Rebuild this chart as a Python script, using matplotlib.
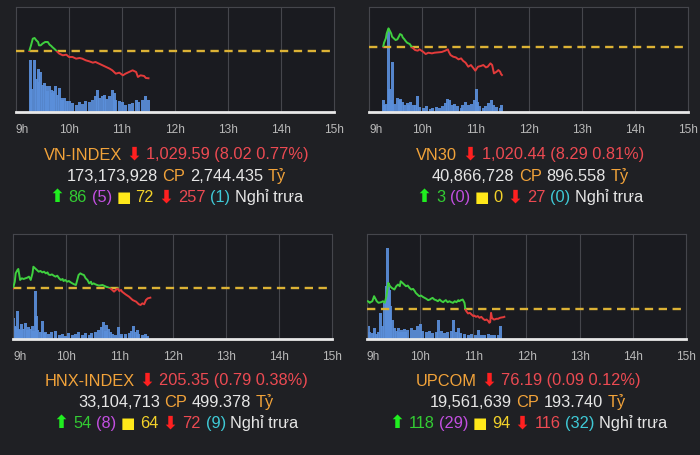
import matplotlib
matplotlib.use('Agg')
import matplotlib.pyplot as plt
from matplotlib.patches import Rectangle
from matplotlib.offsetbox import TextArea, HPacker, AnnotationBbox

plt.rcParams['lines.scale_dashes'] = False

# ---- data: minutes after 9:00, index values, volume ----
# VN-INDEX
vn_min = [15, 17, 19, 21, 23, 25, 26, 28, 30, 33, 36, 38, 40, 41, 44, 47, 49, 53, 57, 60,
          64, 68, 72, 75, 79, 83, 87, 90, 94, 98, 102, 106, 109, 113, 117, 121, 124, 128, 132, 136,
          138, 141, 145, 147, 150]
vn_px = [1037.61, 1039.28, 1041.24, 1041.43, 1040.75, 1040.26, 1039.28, 1039.28, 1039.77, 1040.26,
         1040.26, 1039.47, 1039.08, 1038.79, 1038.10, 1037.32, 1036.83, 1036.34, 1036.53, 1035.85,
         1035.85, 1035.36, 1035.55, 1035.36, 1034.87, 1034.57, 1034.18, 1034.38, 1033.89, 1033.40,
         1032.91, 1032.42, 1031.93, 1030.95, 1031.24, 1030.46, 1030.95, 1031.44, 1031.93, 1031.44,
         1029.97, 1030.46, 1030.26, 1029.67, 1029.59]
vn_vmin = [16, 18, 21, 23, 25, 26, 28, 30, 32, 34, 36, 38, 40, 41, 43, 45, 47, 49, 51, 53,
           55, 57, 60, 64, 68, 72, 75, 79, 83, 87, 90, 92, 94, 98, 100, 102, 106, 109, 111, 113,
           117, 121, 124, 128, 132, 136, 139, 143, 147, 150]
vn_vol = [15.7, 7.0, 15.7, 10.0, 13.0, 9.0, 12.0, 8.0, 8.7, 7.7, 6.2, 7.7, 6.7, 5.7, 6.2, 7.7, 5.2, 7.2, 4.2, 3.7,
          4.2, 3.4, 3.2, 2.7, 2.2, 3.0, 2.4, 3.4, 3.0, 3.7, 4.7, 6.7, 4.2, 4.7, 5.2, 4.0, 4.7, 6.7, 5.7, 3.7,
          3.2, 3.0, 2.2, 2.4, 2.7, 3.7, 3.0, 3.7, 4.7, 3.7]

# VN30
v30_min = [16, 17, 19, 20, 22, 23, 24, 25, 26, 28, 30, 32, 34, 35, 37, 38, 40, 41, 43, 46,
           48, 50, 52, 55, 57, 61, 64, 67, 71, 74, 78, 82, 86, 89, 90, 92, 95, 98, 101, 104,
           106, 109, 112, 115, 118, 120, 123, 126, 129, 132, 134, 137, 139, 141, 144, 146, 148, 149, 150]
v30_px = [1028.73, 1029.90, 1031.17, 1032.64, 1034.10, 1033.62, 1033.13, 1032.64, 1031.66, 1031.17,
          1030.68, 1030.88, 1031.86, 1032.44, 1032.15, 1031.47, 1030.88, 1030.49, 1029.90, 1029.51,
          1028.73, 1028.24, 1027.75, 1027.56, 1027.95, 1027.26, 1026.58, 1026.97, 1026.78, 1026.97,
          1027.07, 1027.17, 1027.56, 1027.95, 1027.26, 1026.29, 1025.80, 1025.60, 1025.02, 1025.31,
          1024.63, 1024.04, 1022.87, 1023.36, 1022.38, 1021.70, 1022.87, 1023.06, 1023.36, 1022.67,
          1022.87, 1023.85, 1023.36, 1020.91, 1021.40, 1021.89, 1021.40, 1020.72, 1020.44]
v30_vmin = [16, 18, 20, 22, 23, 25, 26, 27, 29, 32, 34, 36, 38, 40, 43, 45, 47, 50, 52, 55,
            57, 61, 65, 69, 72, 76, 80, 83, 86, 89, 91, 94, 97, 100, 104, 106, 109, 112, 116, 119,
            121, 123, 125, 129, 132, 135, 138, 140, 144, 148, 150]
v30_vol = [3.7, 2.0, 2.5, 25.0, 7.0, 3.5, 1.5, 15.0, 2.5, 4.3, 3.5, 4.0, 3.0, 2.0, 2.7, 2.0, 3.0, 2.0, 2.0, 4.7,
           1.5, 1.3, 1.7, 1.0, 1.3, 1.5, 1.3, 1.7, 2.7, 4.0, 3.5, 2.0, 2.5, 1.7, 1.3, 2.0, 3.0, 2.0, 2.5, 3.5,
           7.0, 3.0, 1.7, 1.3, 1.7, 2.7, 3.5, 2.0, 1.5, 1.3, 2.0]

# HNX-INDEX
hnx_min = [0, 2, 3, 5, 6, 8, 10, 12, 14, 16, 18, 20, 22, 23, 25, 27, 29, 31, 33, 35,
           37, 39, 40, 42, 44, 46, 48, 50, 52, 54, 56, 57, 59, 61, 63, 65, 67, 69, 71, 72,
           74, 76, 78, 80, 82, 84, 86, 88, 89, 91, 93, 95, 97, 101, 105, 108, 110, 112, 114, 116,
           118, 120, 122, 123, 127, 131, 135, 139, 142, 144, 146, 148, 150, 152, 155]
hnx_px = [206.14, 206.70, 207.41, 207.69, 207.78, 206.85, 206.99, 206.93, 206.99, 207.04,
          207.13, 206.85, 207.41, 207.97, 207.83, 207.69, 207.55, 207.61, 207.49, 207.55,
          207.41, 207.49, 207.32, 207.27, 207.32, 207.21, 207.13, 207.21, 206.99, 206.85,
          206.93, 206.76, 206.85, 206.70, 206.76, 206.65, 206.56, 206.48, 206.42, 206.70,
          207.27, 207.41, 207.32, 207.27, 206.99, 206.85, 206.56, 206.70, 206.48, 206.56,
          206.48, 206.42, 206.37, 206.42, 206.28, 206.20, 206.14, 206.00, 205.86, 206.00,
          206.14, 205.91, 206.00, 205.86, 205.63, 205.43, 205.15, 205.01, 204.79, 204.73,
          204.87, 204.79, 205.15, 205.29, 205.35]
hnx_vmin = [1, 2, 3, 5, 6, 8, 10, 12, 14, 16, 18, 20, 22, 23, 25, 26, 28, 31, 33, 35,
            37, 40, 44, 48, 52, 56, 59, 63, 67, 71, 74, 78, 82, 86, 89, 93, 97, 100, 102, 104,
            106, 108, 110, 112, 116, 119, 122, 123, 127, 131, 134, 136, 138, 140, 142, 146, 150, 152]
hnx_vol = [6.2, 4.0, 3.5, 8.4, 3.0, 2.7, 4.5, 3.0, 4.7, 2.7, 3.5, 3.0, 4.0, 2.5, 14.5, 7.0, 2.7, 2.2, 5.4, 1.7,
           2.0, 1.4, 2.0, 2.4, 1.2, 1.4, 1.0, 1.7, 1.2, 1.4, 2.0, 1.2, 1.7, 1.2, 1.7, 2.2, 2.7, 3.5, 5.2, 2.5,
           4.2, 3.0, 2.2, 1.4, 1.2, 3.7, 1.5, 1.0, 1.4, 1.7, 2.5, 4.0, 2.0, 2.8, 1.4, 1.2, 1.4, 0.8]

# UPCOM
up_min = [1, 3, 4, 6, 8, 9, 11, 13, 16, 18, 20, 21, 22, 23, 24, 26, 28, 31, 33, 35,
          37, 38, 40, 42, 44, 46, 48, 50, 52, 54, 55, 57, 59, 61, 63, 65, 67, 69, 71, 72,
          74, 76, 78, 80, 82, 84, 86, 87, 89, 91, 93, 95, 97, 99, 101, 103, 104, 106, 108, 110,
          111, 112, 114, 116, 118, 120, 121, 123, 125, 127, 129, 131, 133, 135, 137, 138, 139, 140, 141, 143,
          144, 146, 148, 150, 152, 154, 155]
up_px = [76.366, 76.348, 76.355, 76.366, 76.423, 76.404, 76.366, 76.348, 76.355, 76.366,
         76.348, 76.385, 76.423, 76.498, 76.573, 76.535, 76.516, 76.498, 76.535, 76.554,
         76.535, 76.591, 76.573, 76.554, 76.535, 76.543, 76.516, 76.498, 76.505, 76.479,
         76.460, 76.441, 76.423, 76.430, 76.415, 76.404, 76.393, 76.378, 76.385, 76.393,
         76.404, 76.385, 76.378, 76.366, 76.385, 76.366, 76.355, 76.366, 76.378, 76.355,
         76.366, 76.355, 76.348, 76.366, 76.355, 76.378, 76.366, 76.378, 76.385, 76.348,
         76.280, 76.254, 76.228, 76.235, 76.216, 76.198, 76.205, 76.190, 76.198, 76.179,
         76.190, 76.168, 76.153, 76.160, 76.141, 76.123, 76.130, 76.235, 76.179, 76.160,
         76.160, 76.168, 76.168, 76.179, 76.183, 76.186, 76.190]
up_vmin = [2, 3, 6, 8, 11, 13, 15, 18, 20, 22, 23, 24, 25, 27, 29, 31, 33, 35, 37, 39,
           40, 42, 44, 46, 50, 54, 57, 60, 63, 67, 71, 74, 78, 81, 84, 88, 91, 95, 98, 101,
           103, 106, 110, 114, 118, 122, 126, 129, 133, 137, 140, 144, 148, 151]
up_vol = [3.8, 2.0, 1.8, 3.3, 1.5, 2.0, 7.8, 3.8, 10.8, 15.8, 27.4, 16.8, 14.8, 9.8, 5.8, 3.3, 2.3, 3.3, 2.0, 2.8,
          2.0, 3.0, 2.0, 2.6, 3.3, 2.8, 4.0, 4.5, 2.3, 2.0, 2.3, 1.8, 2.0, 5.6, 2.3, 1.8, 2.0, 2.3, 5.8, 2.0,
          3.3, 1.8, 1.6, 1.3, 1.6, 1.3, 2.6, 1.3, 1.3, 1.5, 1.3, 1.1, 1.3, 3.8]

# reference price (previous close) and summary texts
vn_ref, v30_ref, hnx_ref, up_ref = 1037.61, 1028.73, 206.14, 76.28
hours = [9, 10, 11, 12, 13, 14, 15]
hour_labels = ['9h', '10h', '11h', '12h', '13h', '14h', '15h']

vn_text = [['VN-INDEX', '1,029.59 (8.02 0.77%)'],
           ['173,173,928', '2,744.435'],
           ['86', '(5)', '72', '257', '(1)']]
v30_text = [['VN30', '1,020.44 (8.29 0.81%)'],
            ['40,866,728', '896.558'],
            ['3', '(0)', '0', '27', '(0)']]
hnx_text = [['HNX-INDEX', '205.35 (0.79 0.38%)'],
            ['33,104,713', '499.378'],
            ['54', '(8)', '64', '72', '(9)']]
up_text = [['UPCOM', '76.19 (0.09 0.12%)'],
           ['19,561,639', '193.740'],
           ['118', '(29)', '94', '116', '(32)']]

# ---- style ----
BG = '#1f2024'
AX_BG = '#1a1b20'
GRID = '#45464c'
GREEN = '#3fcf3f'
RED = '#e33b3b'
REF_C = '#dcb235'
BAR_C = '#5b8fdb'
ORANGE = '#f2a33a'
WHITE = '#e6e6e6'
TXT_RED = '#ec4a52'
FONT = ['Liberation Sans', 'DejaVu Sans']
FS = 11.8
VOL_TOP = 31.5


def draw_panel(fig, rect, mins, px, vmins, vols, ref, ylim):
	ax = fig.add_axes(rect)
	ax.set_facecolor(AX_BG)
	ax.set_xlim(9, 15)
	ax.set_ylim(0, VOL_TOP)
	#volume bars
	t_v = [9 + m / 60.0 for m in vmins]
	ax.bar(t_v, vols, width=3.4 / 60.0, color=BAR_C, linewidth=0, alpha=0.92, zorder=2)
	#hour grid
	for h in hours[1:-1]:
		ax.axvline(h, color=GRID, lw=0.8, zorder=1)
	for s in ['top', 'left', 'right']:
		ax.spines[s].set_color(GRID)
		ax.spines[s].set_linewidth(0.8)
	ax.spines['bottom'].set_color('#e8e8e8')
	ax.spines['bottom'].set_linewidth(2)
	ax.set_yticks([])
	ax.set_xticks(hours)
	ax.set_xticklabels(hour_labels)
	ax.tick_params(axis='x', length=0, pad=8.5, labelsize=8.6, labelcolor='#b9b9b9')
	ax.get_xticklabels()[0].set_ha('left')
	for lab in ax.get_xticklabels():
		lab.set_family(FONT)

	#price line, green above reference, red below
	ax2 = ax.twinx()
	ax2.set_ylim(ylim)
	ax2.set_yticks([])
	for s in ax2.spines.values():
		s.set_visible(False)
	ax2.axhline(ref, color=REF_C, lw=1.7, dashes=(6, 4), zorder=3)
	t_p = [9 + m / 60.0 for m in mins]
	lg, = ax2.plot(t_p, px, color=GREEN, lw=1.4, zorder=4)
	lr, = ax2.plot(t_p, px, color=RED, lw=1.4, zorder=4)
	lg.set_clip_path(Rectangle((9, ref), 6, ylim[1] - ref, transform=ax2.transData))
	lr.set_clip_path(Rectangle((9, ylim[0]), 6, ref - ylim[0], transform=ax2.transData))
	return ax


def text_line(fig, x, y, parts):
	boxes = []
	for s, c, fam, size, wt in parts:
		boxes.append(TextArea(s, textprops=dict(color=c, fontsize=size, family=fam, weight=wt)))
	pack = HPacker(children=boxes, align='center', pad=0, sep=3.3)
	ab = AnnotationBbox(pack, (x, 455 - y), xycoords='figure pixels', frameon=False,
						box_alignment=(0.5, 0.5), pad=0)
	fig.add_artist(ab)


def draw_info(fig, x, y0, name, txt):
	af = ['DejaVu Sans']
	down = ('⬇', '#ff2020', af, 13, 'bold')
	up = ('⬆', '#20ee20', af, 13, 'bold')
	text_line(fig, x, y0, [(txt[0][0], ORANGE, FONT, FS, 'normal'), down,
						   (txt[0][1], TXT_RED, FONT, FS, 'normal')])
	text_line(fig, x, y0 + 21.5, [(txt[1][0], WHITE, FONT, FS, 'normal'), ('CP', ORANGE, FONT, FS, 'normal'),
								  (txt[1][1], WHITE, FONT, FS, 'normal'), ('Tỷ', ORANGE, FONT, FS, 'normal')])
	r = txt[2]
	text_line(fig, x, y0 + 42.5, [up, (r[0], '#33cc33', FONT, FS, 'normal'),
								  (r[1], '#c24fe0', FONT, FS, 'normal'), ('■', '#ffe81a', af, 11, 'normal'),
								  (r[2], '#f3d22a', FONT, FS, 'normal'), down,
								  (r[3], TXT_RED, FONT, FS, 'normal'), (r[4], '#3fc9d6', FONT, FS, 'normal'),
								  ('Nghỉ trưa', WHITE, FONT, FS, 'normal')])


fig = plt.figure(figsize=(7, 4.55), dpi=100, facecolor=BG)
W, H = 700.0, 455.0
draw_panel(fig, [16 / W, (H - 112) / H, 318 / W, 105 / H], vn_min, vn_px, vn_vmin, vn_vol,
		   vn_ref, (1019.67, 1050.55))
draw_panel(fig, [369 / W, (H - 112) / H, 319 / W, 105 / H], v30_min, v30_px, v30_vmin, v30_vol,
		   v30_ref, (1009.6, 1040.36))
draw_panel(fig, [13 / W, (H - 339) / H, 319 / W, 105 / H], hnx_min, hnx_px, hnx_vmin, hnx_vol,
		   hnx_ref, (201.85, 210.74))
draw_panel(fig, [367 / W, (H - 339) / H, 319 / W, 105 / H], up_min, up_px, up_vmin, up_vol,
		   up_ref, (75.94, 77.124))

draw_info(fig, 176, 155, 'VN-INDEX', vn_text)
draw_info(fig, 530, 155, 'VN30', v30_text)
draw_info(fig, 176, 381, 'HNX-INDEX', hnx_text)
draw_info(fig, 528, 381, 'UPCOM', up_text)

fig.savefig('out.png', dpi=100, facecolor=BG)
